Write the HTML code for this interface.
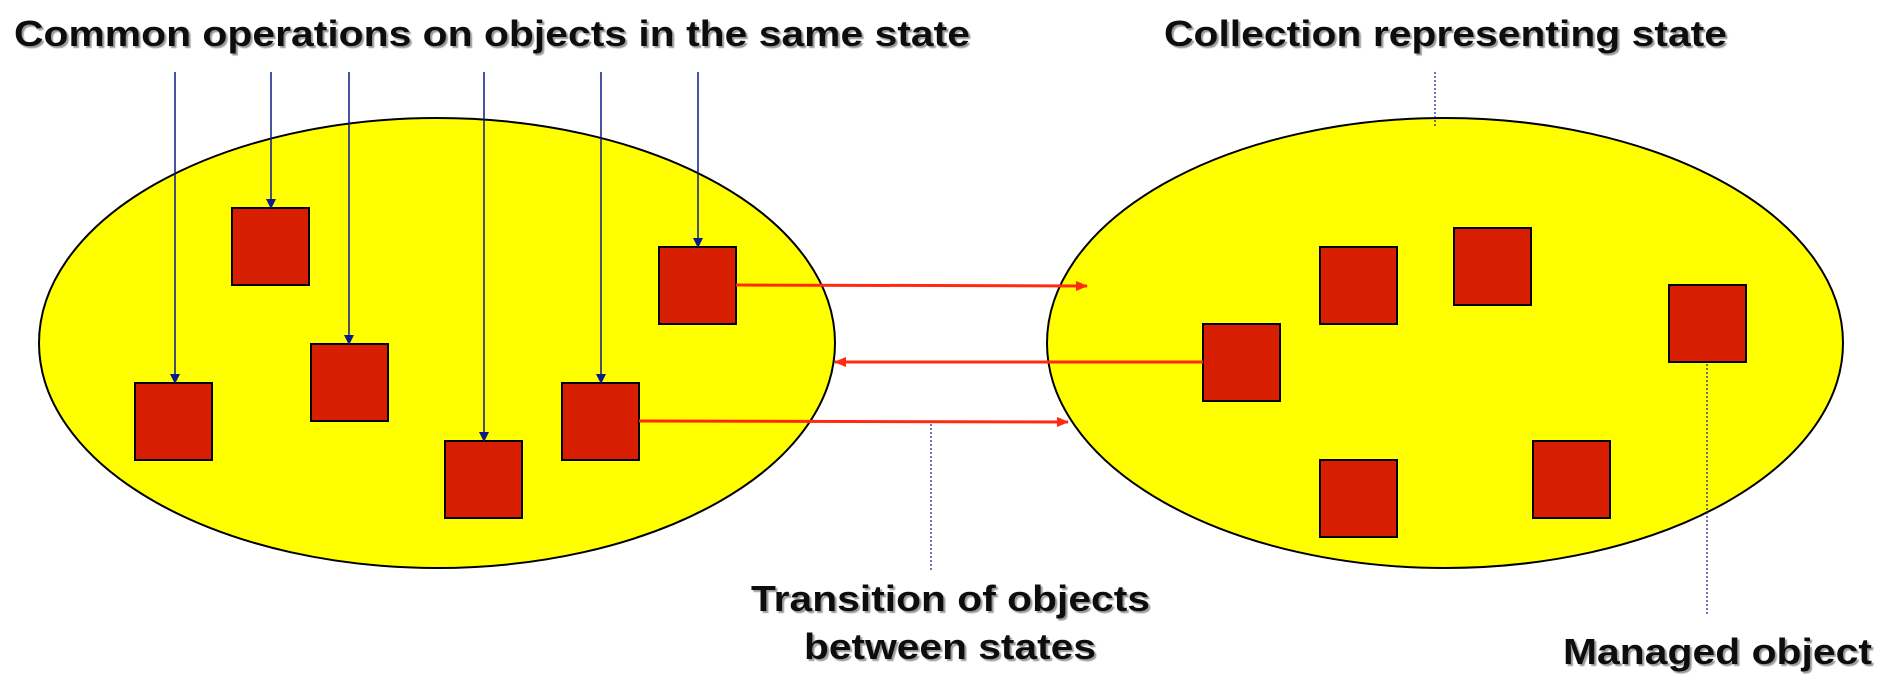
<!DOCTYPE html>
<html><head><style>
html,body{margin:0;padding:0;background:#fff;}
svg text{font-family:"Liberation Sans",Arial,sans-serif;font-weight:bold;font-size:36px;fill:#111;}
</style></head><body>
<svg width="1888" height="686" viewBox="0 0 1888 686" xmlns="http://www.w3.org/2000/svg">
<defs>
<marker id="ab" markerWidth="10" markerHeight="10" refX="9" refY="5" orient="auto" markerUnits="userSpaceOnUse"><path d="M0,0 L10,5 L0,10 Z" fill="#0a1a8a"/></marker>
<marker id="ar" markerWidth="12" markerHeight="10" refX="11" refY="5" orient="auto" markerUnits="userSpaceOnUse"><path d="M0,0 L12,5 L0,10 Z" fill="#ff2a10"/></marker>
<filter id="sh"><feDropShadow dx="2" dy="2" stdDeviation="0.5" flood-color="#999"/></filter>
</defs>
<ellipse cx="437" cy="343" rx="398" ry="225" fill="#ffff00" stroke="#000" stroke-width="2"/>
<ellipse cx="1445" cy="343" rx="398" ry="225" fill="#ffff00" stroke="#000" stroke-width="2"/>
<g fill="#d81e00" stroke="#000" stroke-width="2">
<rect x="232" y="208" width="77" height="77"/>
<rect x="659" y="247" width="77" height="77"/>
<rect x="311" y="344" width="77" height="77"/>
<rect x="135" y="383" width="77" height="77"/>
<rect x="562" y="383" width="77" height="77"/>
<rect x="445" y="441" width="77" height="77"/>
<rect x="1320" y="247" width="77" height="77"/>
<rect x="1454" y="228" width="77" height="77"/>
<rect x="1669" y="285" width="77" height="77"/>
<rect x="1203" y="324" width="77" height="77"/>
<rect x="1320" y="460" width="77" height="77"/>
<rect x="1533" y="441" width="77" height="77"/>
</g>
<g stroke="#0a1a8a" stroke-width="1.5" marker-end="url(#ab)">
<line x1="175" y1="72" x2="175" y2="383"/>
<line x1="271" y1="72" x2="271" y2="208"/>
<line x1="349" y1="72" x2="349" y2="344"/>
<line x1="484" y1="72" x2="484" y2="441"/>
<line x1="601" y1="72" x2="601" y2="383"/>
<line x1="698" y1="72" x2="698" y2="247"/>
</g>
<g stroke="#ff2a10" stroke-width="3" marker-end="url(#ar)">
<line x1="736" y1="285" x2="1087" y2="286"/>
<line x1="1203" y1="362" x2="835" y2="362"/>
<line x1="639" y1="421" x2="1068" y2="422"/>
</g>
<g stroke="#0a1a8a" stroke-width="1.2" stroke-dasharray="2,2">
<line x1="1435" y1="72" x2="1435" y2="126"/>
<line x1="931" y1="424" x2="931" y2="572"/>
<line x1="1707" y1="364" x2="1707" y2="616"/>
</g>
<g filter="url(#sh)">
<text x="14" y="46" textLength="956" lengthAdjust="spacingAndGlyphs">Common operations on objects in the same state</text>
<text x="1164" y="46" textLength="563" lengthAdjust="spacingAndGlyphs">Collection representing state</text>
<text x="751" y="611" textLength="399" lengthAdjust="spacingAndGlyphs">Transition of objects</text>
<text x="804" y="659" textLength="292" lengthAdjust="spacingAndGlyphs">between states</text>
<text x="1563" y="664" textLength="309" lengthAdjust="spacingAndGlyphs">Managed object</text>
</g>
</svg>
</body></html>
